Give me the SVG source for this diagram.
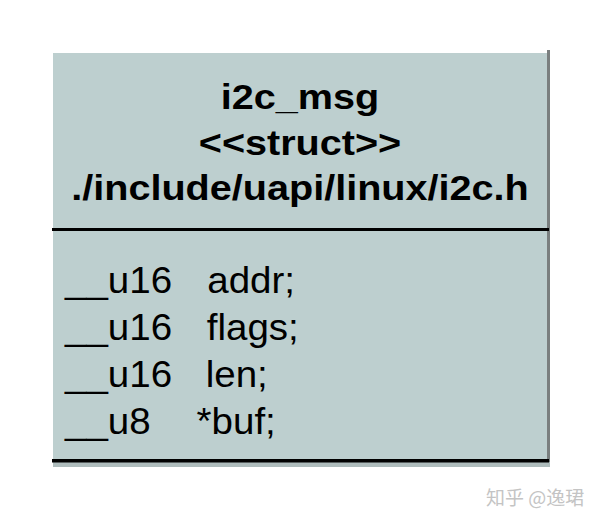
<svg xmlns="http://www.w3.org/2000/svg" width="600" height="520" viewBox="0 0 600 520">
<style>
.hdr{font-family:"Liberation Sans",Arial,sans-serif;font-weight:bold;font-size:36px;fill:#000;text-anchor:middle}
.fld{font-family:"Liberation Sans",Arial,sans-serif;font-size:36px;fill:#000}
.wm{font-family:"Noto Sans CJK SC","Liberation Sans",sans-serif;font-size:19px;fill:#c4c4c4}
</style>
<rect width="600" height="520" fill="#fff"/>
<g id="i2c_msg">
<rect x="53" y="53" width="495" height="414" fill="#bdcfcf"/>
<rect x="547" y="50" width="3" height="417" fill="#7a7f7f"/>
<rect x="53" y="462" width="497" height="5" fill="#aebcbc"/>
<rect x="52" y="228" width="497" height="3" fill="#000"/>
<rect x="52" y="459" width="497" height="3.5" fill="#000"/>
<g transform="translate(300,0) scale(1.1,1)">
<text class="hdr" x="0" y="109">i2c_msg</text>
<text class="hdr" x="0" y="155">&lt;&lt;struct&gt;&gt;</text>
<text class="hdr" x="0" y="200">./include/uapi/linux/i2c.h</text>
</g>
<g transform="translate(65,0) scale(1.07,1)">
<text class="fld" x="0" y="293">__u16</text><text class="fld" x="133" y="293">addr;</text>
<text class="fld" x="0" y="340">__u16</text><text class="fld" x="132.5" y="340">flags;</text>
<text class="fld" x="0" y="387">__u16</text><text class="fld" x="131.5" y="387">len;</text>
<text class="fld" x="0" y="434">__u8</text><text class="fld" x="123" y="434">*buf;</text>
</g>
</g>
<g id="connectors"></g>
<text class="wm" x="486" y="505">知乎 @逸珺</text>
</svg>
